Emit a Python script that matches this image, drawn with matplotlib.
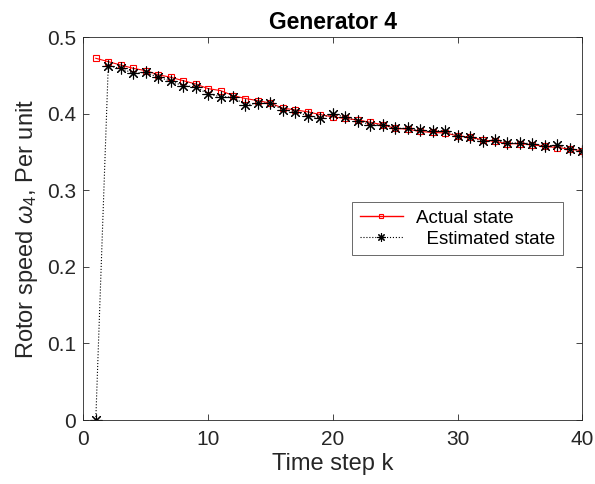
import matplotlib
matplotlib.use("Agg")
import matplotlib.pyplot as plt
import numpy as np

# ── Data ─────────────────────────────────────────────────────────────────────
time_steps = np.arange(1, 41)

actual_state = [
    0.4726, 0.4682, 0.4638, 0.4595, 0.4564, 0.4512, 0.4478, 0.4434, 0.4391, 0.4330,
    0.4304, 0.4239, 0.4200, 0.4173, 0.4140, 0.4074, 0.4052, 0.4026, 0.3990, 0.3960,
    0.3940, 0.3920, 0.3890, 0.3857, 0.3810, 0.3800, 0.3770, 0.3757, 0.3750, 0.3713,
    0.3696, 0.3660, 0.3640, 0.3610, 0.3610, 0.3596, 0.3574, 0.3560, 0.3540, 0.3518,
]

estimated_state = [
    0.0000, 0.4625, 0.4595, 0.4530, 0.4543, 0.4478, 0.4430, 0.4365, 0.4356, 0.4257,
    0.4226, 0.4217, 0.4117, 0.4140, 0.4140, 0.4052, 0.4030, 0.3974, 0.3944, 0.4000,
    0.3957, 0.3913, 0.3857, 0.3857, 0.3810, 0.3810, 0.3783, 0.3780, 0.3780, 0.3705,
    0.3700, 0.3640, 0.3660, 0.3618, 0.3620, 0.3610, 0.3580, 0.3590, 0.3540, 0.3520,
]

x_ticks = [0, 10, 20, 30, 40]
y_ticks = [0, 0.1, 0.2, 0.3, 0.4, 0.5]
y_tick_labels = ["0", "0.1", "0.2", "0.3", "0.4", "0.5"]

plt.rcParams["font.family"] = ["Liberation Sans", "DejaVu Sans"]
plt.rcParams["mathtext.fontset"] = "custom"
plt.rcParams["mathtext.it"] = "Liberation Sans:italic"
plt.rcParams["mathtext.rm"] = "Liberation Sans"

AX_COLOR = "#262626"

fig = plt.figure(figsize=(5.95, 4.84), dpi=100)
ax = fig.add_axes([0.140, 0.1322, 0.8387, 0.7907])

ax.plot(time_steps, actual_state, color="red", linestyle="-", linewidth=0.8,
        marker="s", markersize=4.5, markerfacecolor="none",
        markeredgecolor="red", markeredgewidth=0.8, label="Actual state")
ax.plot(time_steps, estimated_state, color="black", linestyle=":", linewidth=0.8,
        marker=(8, 2, 0), markersize=8.5, markeredgewidth=0.8,
        markeredgecolor="black", label="  Estimated state")

ax.set_xlim(0, 40)
ax.set_ylim(0, 0.5)
ax.set_xticks(x_ticks)
ax.set_yticks(y_ticks)
ax.set_yticklabels(y_tick_labels)

ax.tick_params(direction="in", length=4, width=0.6, colors=AX_COLOR,
               labelsize=15, top=True, right=True, labelcolor=AX_COLOR)
ax.tick_params(axis="x", pad=7)
ax.tick_params(axis="y", pad=5)
for spine in ax.spines.values():
    spine.set_color(AX_COLOR)
    spine.set_linewidth(0.6)

ax.set_xlabel("Time step k", fontsize=17, color=AX_COLOR, labelpad=3)
ax.set_ylabel(r"Rotor speed $\omega_4$, Per unit", fontsize=17,
              color=AX_COLOR, labelpad=5)
ax.set_title("Generator 4", fontsize=16.5, fontweight="bold", pad=6)

leg = ax.legend(loc="center", bbox_to_anchor=(0.75, 0.50), fontsize=13.5,
                frameon=True, fancybox=False, edgecolor=AX_COLOR,
                borderpad=0.4, handlelength=2.3, handletextpad=0.7,
                labelspacing=0.2)
leg.get_frame().set_linewidth(0.6)
leg.legend_handles[0].set_markersize(3.5)
leg.legend_handles[0].set_linewidth(1.0)
leg.legend_handles[1].set_markersize(6)

fig.savefig("out.png", dpi=100)
